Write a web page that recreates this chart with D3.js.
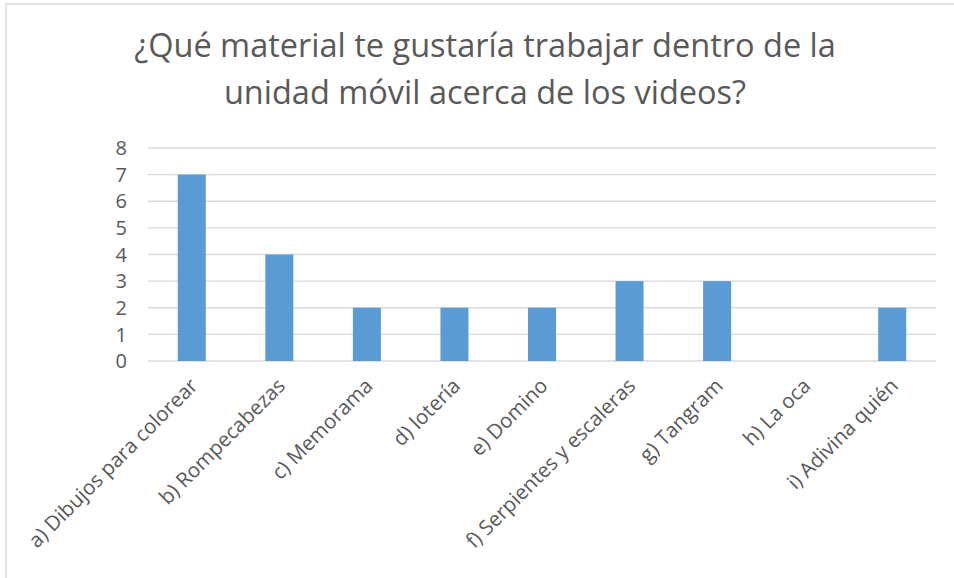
<!DOCTYPE html>
<html><head><meta charset="utf-8">
<script src="https://cdn.jsdelivr.net/npm/d3@7"></script>
<style>body{margin:0;background:#fff}svg{display:block}text{font-family:"Open Sans",sans-serif;fill:#595959}</style>
</head><body><svg id="c" width="954" height="578"></svg>
<script>
const categories = ["a) Dibujos para colorear","b) Rompecabezas","c) Memorama","d) lotería","e) Domino","f) Serpientes y escaleras","g) Tangram","h) La oca","i) Adivina quién"];
const values = [7,4,2,2,2,3,3,0,2];
const yTicks = [0,1,2,3,4,5,6,7,8];
const titleLines = ["¿Qué material te gustaría trabajar dentro de la","unidad móvil acerca de los videos?"];

const svg = d3.select("#c");
svg.append("rect").attr("x",6).attr("y",4).attr("width",1000).attr("height",1000)
  .attr("fill","#fff").attr("stroke","#d9d9d9").attr("stroke-width",1.5);

const m = {l:148, r:936, t:148, b:361};
const x = d3.scaleBand().domain(categories).range([m.l,m.r]).paddingInner(0.68).paddingOuter(0.34);
const y = d3.scaleLinear().domain([0,8]).range([m.b,m.t]);

svg.append("g").selectAll("line").data(yTicks).join("line")
  .attr("x1",m.l).attr("x2",m.r).attr("y1",d=>y(d)).attr("y2",d=>y(d))
  .attr("stroke","#d9d9d9").attr("stroke-width",1.3);

svg.append("g").selectAll("text").data(yTicks).join("text")
  .attr("x",127).attr("y",d=>y(d)).attr("dy","0.36em").attr("text-anchor","end")
  .attr("font-size",20).text(d=>d);

svg.append("g").selectAll("rect").data(values).join("rect")
  .attr("x",(d,i)=>x(categories[i])).attr("width",x.bandwidth())
  .attr("y",d=>y(d)).attr("height",d=>y(0)-y(d))
  .attr("fill","#5b9bd5");

svg.append("g").selectAll("text").data(categories).join("text")
  .attr("transform",d=>`translate(${x(d)+x.bandwidth()/2+2},${m.b+21}) rotate(-45)`)
  .attr("text-anchor","end").attr("dy","0.35em").attr("font-size",20.5).text(d=>d);

svg.append("g").selectAll("text").data(titleLines).join("text")
  .attr("x",485).attr("y",(d,i)=>57+i*47).attr("text-anchor","middle")
  .attr("font-size",32.5).text(d=>d);
</script></body></html>
